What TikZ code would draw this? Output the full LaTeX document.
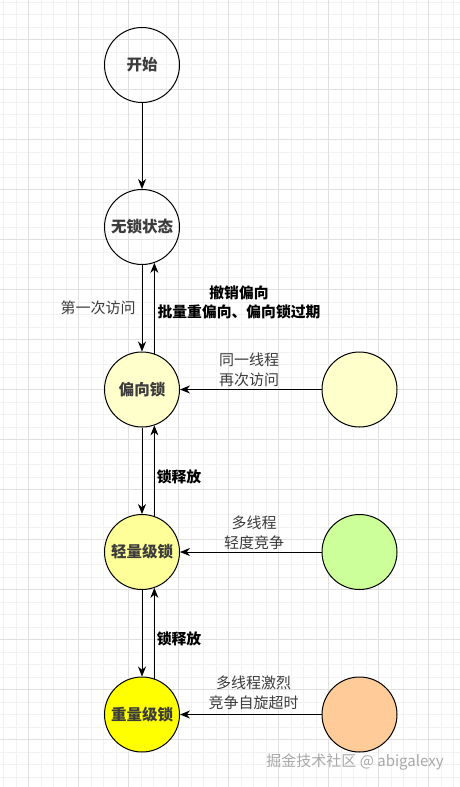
\documentclass[tikz,border=0pt]{standalone}
\usepackage{fontspec}
\setmainfont{Noto Sans CJK SC}
\usetikzlibrary{arrows.meta}
\definecolor{gridminor}{HTML}{F2F2F2}
\definecolor{gridmajor}{HTML}{E0E0E0}
\definecolor{txtgrey}{HTML}{3C3C3C}
\definecolor{biasfill}{HTML}{FFFFCC}
\definecolor{lightfill}{HTML}{FFFF99}
\definecolor{heavyfill}{HTML}{FFFF00}
\definecolor{greenfill}{HTML}{CCFF99}
\definecolor{orangefill}{HTML}{FFCC99}
\definecolor{markgrey}{HTML}{A8A8A8}
\tikzset{
  state/.style={circle,draw,line width=1pt,minimum size=75pt,inner sep=0pt,
    text=txtgrey,font=\fontsize{15.5}{18}\selectfont\bfseries},
  lbl/.style={align=center,text=txtgrey,font=\fontsize{15}{20}\selectfont},
  lblbold/.style={lbl,text=black,font=\fontsize{14.8}{19.5}\selectfont\bfseries},
}
\begin{document}
\begin{tikzpicture}[x=1pt,y=-1pt,>={Stealth[length=10pt,width=8pt]},line width=0.9pt]
  \useasboundingbox[fill=white] (0,0) rectangle (460,787);
  % Background grid
  \foreach \k in {0,...,36} \draw[gridminor,line width=0.6pt] ({3.3+12.5*\k},0) -- ({3.3+12.5*\k},787);
  \foreach \k in {0,...,62} \draw[gridminor,line width=0.6pt] (0,{1.8+12.5*\k}) -- (460,{1.8+12.5*\k});
  \foreach \k in {0,...,8} \draw[gridmajor,line width=0.6pt] ({28.3+50*\k},0) -- ({28.3+50*\k},787);
  \foreach \k in {0,...,14} \draw[gridmajor,line width=0.6pt] (0,{39.3+50*\k}) -- (460,{39.3+50*\k});

  % Lock states
  \node[state] (start) at (142,65) {开始};
  \node[state] (free) at (142,227) {无锁状态};
  \node[state,fill=biasfill] (biased) at (142,389.5) {偏向锁};
  \node[state,fill=lightfill] (light) at (142,552) {轻量级锁};
  \node[state,fill=heavyfill] (heavy) at (142,714.5) {重量级锁};
  % Triggers
  \node[state,fill=biasfill] (again) at (359.5,389.5) {};
  \node[state,fill=greenfill] (few) at (359.5,552) {};
  \node[state,fill=orangefill] (many) at (359.5,714.5) {};

  % Upgrades and releases
  \draw[->] (start) -- (free);
  \draw[->] (free) -- (biased);
  \draw[->] (biased.71) -- (free.-71);
  \draw[->] (biased) -- (light);
  \draw[->] (light.71) -- (biased.-71);
  \draw[->] (light) -- (heavy);
  \draw[->] (heavy.71) -- (light.-71);
  \draw[->] (again) -- (biased);
  \draw[->] (few) -- (light);
  \draw[->] (many) -- (heavy);

  % Labels
  \node[lbl] (firstvisit) at (98,308) {第一次访问};
  \node[lblbold] (revoke) at (239,302.5) {撤销偏向\\批量重偏向、偏向锁过期};
  \node[lbl] (samethread) at (249,369.5) {同一线程\\再次访问};
  \node[lblbold] (release1) at (179,477) {锁释放};
  \node[lbl] (fewthreads) at (254,533) {多线程\\轻度竞争};
  \node[lblbold] (release2) at (179,639) {锁释放};
  \node[lbl] (manythreads) at (253.5,692.5) {多线程激烈\\竞争自旋超时};
  \node[text=markgrey,font=\fontsize{15}{18}\selectfont] (mark) at (355,762) {掘金技术社区 @ abigalexy};
\end{tikzpicture}
\end{document}
